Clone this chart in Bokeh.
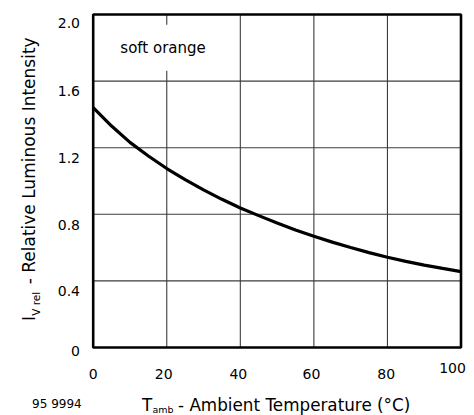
import math
from bokeh.plotting import figure
from bokeh.models import Range1d, Label, ColumnDataSource
from bokeh.core.properties import value
from bokeh.embed import file_html
from bokeh.resources import INLINE

# ---- data ----
temp_c = [0, 5, 10, 15, 20, 25, 30, 35, 40, 45, 50, 55, 60, 65, 70, 75, 80, 85, 90, 95, 100]
iv_rel = [1.44, 1.33, 1.232, 1.15, 1.075, 1.008, 0.947, 0.89, 0.838, 0.792, 0.748,
          0.706, 0.668, 0.633, 0.601, 0.570, 0.542, 0.517, 0.495, 0.475, 0.456]
x_ticks = [0, 20, 40, 60, 80, 100]
x_tick_labels = ["0", "20", "40", "60", "80", "100"]
y_ticks = [0, 0.4, 0.8, 1.2, 1.6, 2.0]
y_tick_labels = ["0", "0.4", "0.8", "1.2", "1.6", "2.0"]
series_label = "soft orange"
doc_number = "95 9994"

# ---- layout / style ----
FONT = "DejaVu Sans"
W, H = 474, 415
FL, FR, FT, FB = 92.7, 460.5, 14.0, 347.0          # plot box in pixels
x_lab_dx = [0, -3, -2, -2.5, -1.2, -8.5]           # label nudges (px)
x_lab_dy = [26.5, 26.5, 26.5, 26.5, 26.5, 20]
y_lab_dy = [3, 10.2, 10.2, 10.2, 10.2, 8]

x0, x1 = x_ticks[0], x_ticks[-1]
y0, y1 = y_ticks[0], y_ticks[-1]
kx = (FR - FL) / (x1 - x0)
ky = (FB - FT) / (y1 - y0)
xr = Range1d(x0 - FL / kx, x1 + (W - FR) / kx)
yr = Range1d(y0 - (H - FB) / ky, y1 + FT / ky)

p = figure(width=W, height=H, output_backend="svg", toolbar_location=None,
           x_range=xr, y_range=yr, x_axis_location=None, y_axis_location=None,
           min_border=0)
p.grid.visible = False
p.outline_line_color = None
p.background_fill_color = "white"
p.border_fill_color = "white"

# grid lines
grid_col = "#3c3c3c"
vx = x_ticks[1:-1]
p.segment(x0=vx, y0=[y0] * len(vx), x1=vx, y1=[y1] * len(vx), line_color=grid_col, line_width=1.1)
hy = y_ticks[1:-1]
p.segment(x0=[x0] * len(hy), y0=hy, x1=[x1] * len(hy), y1=hy, line_color=grid_col, line_width=1.1)

# curve
p.line(temp_c, iv_rel, line_color="black", line_width=3.2)

# plot box
p.quad(left=[x0], right=[x1], bottom=[y0], top=[y1], fill_color=None,
       line_color="black", line_width=2.6)

# tick labels
xsrc = ColumnDataSource(dict(x=x_ticks, y=[y0] * len(x_ticks), t=x_tick_labels,
                             dx=x_lab_dx, dy=x_lab_dy))
p.text(x="x", y="y", text="t", x_offset="dx", y_offset="dy", source=xsrc,
       text_align="center", text_baseline="alphabetic",
       text_font=value(FONT), text_font_size="14px", text_color="black")
ysrc = ColumnDataSource(dict(x=[x0] * len(y_ticks), y=y_ticks, t=y_tick_labels, dy=y_lab_dy))
p.text(x="x", y="y", text="t", x_offset=-13.2, y_offset="dy", source=ysrc,
       text_align="right", text_baseline="alphabetic",
       text_font=value(FONT), text_font_size="14px", text_color="black")

# series label (white box interrupts the 20 grid line)
p.add_layout(Label(x=19, y=1.8, text=series_label, text_align="center", text_baseline="middle",
                   text_font=FONT, text_font_size="15px", text_color="black",
                   background_fill_color="white", padding=14))

def slabel(x, y, text, size, angle=0.0):
    p.add_layout(Label(x=x, y=y, x_units="screen", y_units="screen", text=text, angle=angle,
                       text_align="left", text_baseline="alphabetic",
                       text_font=FONT, text_font_size=size, text_color="black"))

# y-axis title (rotated)
rot = math.pi / 2
slabel(28.3, H - 320.4, "I", "17px", rot)
slabel(35.0, H - 315.3, "V rel", "10.5px", rot)
slabel(28.3, H - 283.8, "- Relative Luminous Intensity", "17px", rot)

# x-axis title
slabel(141.5, H - 404.5, "T", "16.8px")
slabel(152.0, H - 408.5, "amb", "9.5px")
slabel(177.5, H - 404.5, "- Ambient Temperature (°C)", "16.8px")

# document number
slabel(31.6, H - 403.5, doc_number, "12px")

open("out.html", "w").write(file_html(p, INLINE))
